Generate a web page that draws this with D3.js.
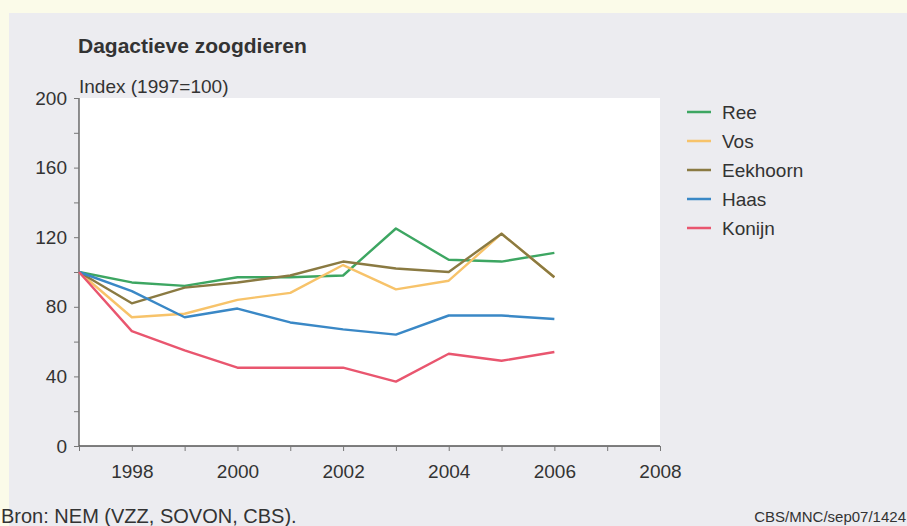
<!DOCTYPE html>
<html>
<head>
<meta charset="utf-8">
<script src="https://cdn.jsdelivr.net/npm/d3@7"></script>
<style>
	body { margin: 0; background: #fbfbe9; }
	svg { display: block; font-family: "Liberation Sans", Arial, sans-serif; }
</style>
</head>
<body>
<script>
	// data
	var years = [1997, 1998, 1999, 2000, 2001, 2002, 2003, 2004, 2005, 2006];
	var seriesNames = ["Ree", "Vos", "Eekhoorn", "Haas", "Konijn"];
	var seriesColors = ["#3da662", "#f7c36a", "#8a7a42", "#3a88c6", "#e9566f"];
	var ree = [100, 94, 92, 97, 97, 98, 125, 107, 106, 111];
	var vos = [100, 74, 76, 84, 88, 104, 90, 95, 122, 97];
	var eekhoorn = [100, 82, 91, 94, 98, 106, 102, 100, 122, 97];
	var haas = [100, 89, 74, 79, 71, 67, 64, 75, 75, 73];
	var konijn = [100, 66, 55, 45, 45, 45, 37, 53, 49, 54];
	var yTicks = [0, 40, 80, 120, 160, 200];
	var xTicks = [1998, 2000, 2002, 2004, 2006, 2008];

	var allSeries = [ree, vos, eekhoorn, haas, konijn];
	var width = 907, height = 526;

	var svg = d3.select("body").append("svg")
		.attr("width", width)
		.attr("height", height);

	// gray panel (yellowish page shows at top and left)
	svg.append("rect")
		.attr("x", 9).attr("y", 13)
		.attr("width", width - 9).attr("height", height - 13)
		.attr("fill", "#ececf0");

	var plot = {left: 79, right: 660, top: 98, bottom: 446};

	var x = d3.scaleLinear().domain([1997, 2008]).range([plot.left, plot.right]);
	var y = d3.scaleLinear().domain([0, 200]).range([plot.bottom, plot.top]);

	svg.append("rect")
		.attr("x", plot.left).attr("y", plot.top)
		.attr("width", plot.right - plot.left).attr("height", plot.bottom - plot.top)
		.attr("fill", "#ffffff");

	/* axes */
	var yAxis = svg.append("g")
		.attr("transform", "translate(" + plot.left + ",0)")
		.call(d3.axisLeft(y).tickValues(d3.range(0, 201, 20)).tickSize(5)
			.tickFormat(function(d){ return yTicks.indexOf(d) >= 0 ? d : ""; }));

	var xAxis = svg.append("g")
		.attr("transform", "translate(0," + plot.bottom + ")")
		.call(d3.axisBottom(x).tickValues(d3.range(1997, 2009, 1)).tickSize(5)
			.tickFormat(function(d){ return xTicks.indexOf(d) >= 0 ? d : ""; }));

	[yAxis, xAxis].forEach(function(a){
		a.select(".domain").attr("stroke", "#555").attr("stroke-width", 1.3);
		a.selectAll(".tick line").attr("stroke", "#777");
		a.selectAll(".tick text").attr("fill", "#333").style("font-size", "19px");
	});
	yAxis.select(".domain").attr("d", "M0," + plot.bottom + "V" + plot.top);
	xAxis.select(".domain").attr("d", "M" + plot.left + ",0H" + plot.right);
	yAxis.selectAll(".tick text").attr("x", -12);
	xAxis.selectAll(".tick text").attr("y", 19);

	/* lines */
	var line = d3.line()
		.x(function(d, i){ return x(years[i]); })
		.y(function(d){ return y(d); });

	svg.selectAll(".serie")
		.data(allSeries)
		.enter()
		.append("path")
		.attr("class", "serie")
		.attr("d", line)
		.attr("fill", "none")
		.attr("stroke", function(d, i){ return seriesColors[i]; })
		.attr("stroke-width", 2.4)
		.attr("stroke-linejoin", "round");

	/* legend */
	var legend = svg.selectAll(".legend")
		.data(seriesNames)
		.enter()
		.append("g")
		.attr("class", "legend")
		.attr("transform", function(d, i){ return "translate(687," + (112 + i * 29) + ")"; });

	legend.append("line")
		.attr("x1", 0).attr("x2", 24)
		.attr("stroke", function(d, i){ return seriesColors[i]; })
		.attr("stroke-width", 2.5);

	legend.append("text")
		.attr("x", 35).attr("y", 7)
		.attr("fill", "#333")
		.style("font-size", "19px")
		.text(function(d){ return d; });

	/* titles */
	svg.append("text")
		.attr("x", 78).attr("y", 53)
		.attr("fill", "#333")
		.style("font-size", "21px")
		.style("font-weight", "bold")
		.text("Dagactieve zoogdieren");

	svg.append("text")
		.attr("x", 79).attr("y", 93)
		.attr("fill", "#333")
		.style("font-size", "19px")
		.text("Index (1997=100)");

	svg.append("text")
		.attr("x", 1).attr("y", 523)
		.attr("fill", "#333")
		.style("font-size", "20px")
		.text("Bron: NEM (VZZ, SOVON, CBS).");

	svg.append("text")
		.attr("x", 906).attr("y", 522)
		.attr("text-anchor", "end")
		.attr("fill", "#333")
		.style("font-size", "15px")
		.text("CBS/MNC/sep07/1424");
</script>
</body>
</html>
